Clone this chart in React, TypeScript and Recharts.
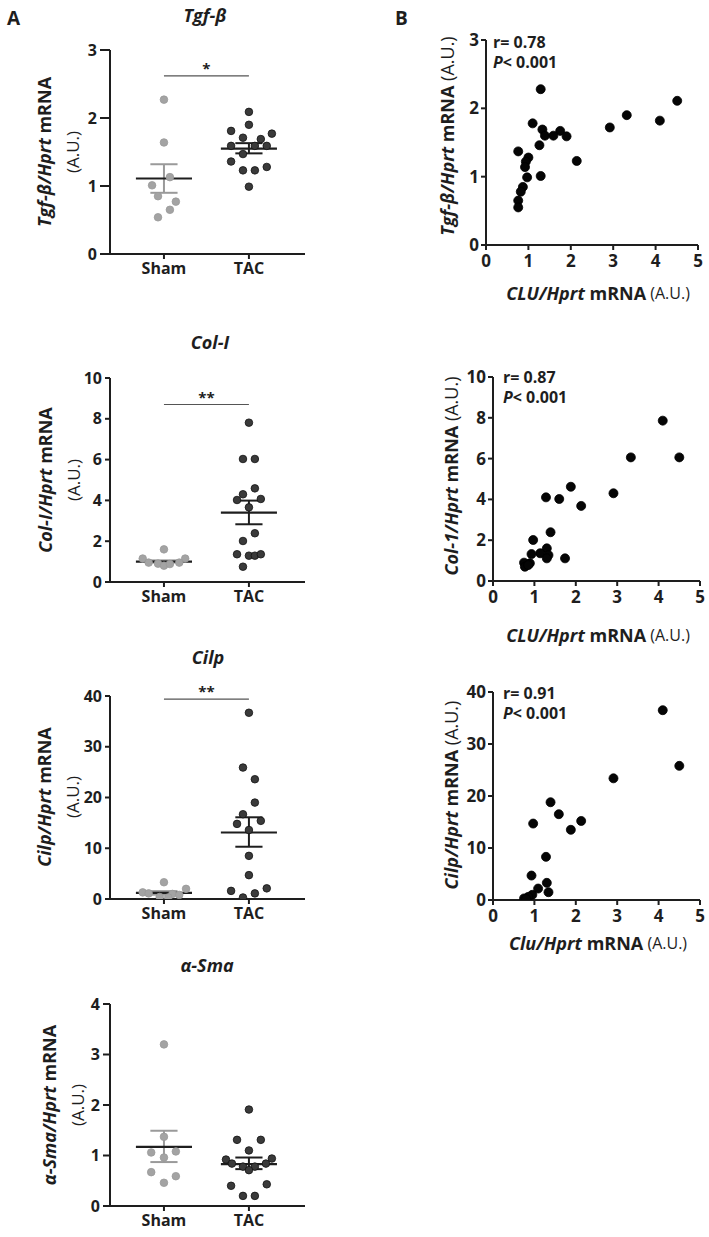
import React from 'react';
import { ScatterChart, Scatter, XAxis, YAxis, ReferenceLine } from 'recharts';

const FONT = '"Open Sans", "DejaVu Sans", sans-serif';
const INK = '#1e1e1e';
const SHAM_FILL = '#a3a3a3';
const TAC_FILL = '#3a3a3a';

// ---- panel A: Sham vs TAC ----
const groups = ['Sham', 'TAC'];

const tgfSham = [2.27, 1.64, 1.13, 1.01, 0.85, 0.77, 0.65, 0.54];
const tgfShamJit = [0, 0, 0.07, -0.14, -0.07, 0.14, 0.07, -0.07];
const tgfTac = [2.09, 1.9, 1.81, 1.77, 1.71, 1.69, 1.59, 1.59, 1.59, 1.47, 1.36, 1.23, 1.23, 1.28, 0.99];
const tgfTacJit = [0, 0, -0.21, 0.27, -0.07, 0.14, -0.21, 0.07, 0.21, -0.07, -0.21, -0.07, 0.07, 0.21, 0];
const tgfStats = [[1.11, 0.9, 1.32], [1.55, 1.48, 1.63]];

const colSham = [1.6, 1.15, 1.15, 0.95, 0.9, 0.8, 0.88, 0.95];
const colShamJit = [0, -0.25, 0.25, -0.18, -0.07, 0, 0.07, 0.18];
const colTac = [7.81, 6.03, 6.03, 4.59, 4.3, 4.02, 4.07, 3.66, 2.39, 2.01, 1.36, 1.29, 1.29, 1.36, 0.75];
const colTacJit = [0, -0.07, 0.07, 0.07, -0.07, -0.14, 0.14, 0, 0.07, -0.07, -0.14, 0, 0.07, 0.14, -0.07];
const colStats = [[1.0, 0.95, 1.06], [3.4, 2.83, 3.99]];

const cilpSham = [3.3, 2.0, 1.3, 1.1, 1.0, 0.8, 0.4, 0.3];
const cilpShamJit = [0, 0.26, -0.25, -0.18, 0.1, 0.18, -0.05, 0.05];
const cilpTac = [36.7, 25.9, 23.6, 19.0, 16.7, 14.8, 15.4, 13.6, 8.5, 4.7, 1.6, 0.3, 1.1, 2.1];
const cilpTacJit = [0, -0.07, 0.07, 0.07, -0.07, -0.14, 0.14, 0, 0, 0, -0.21, -0.07, 0.07, 0.21];
const cilpStats = [[1.2, 0.85, 1.55], [13.1, 10.3, 16.1]];

const smaSham = [3.2, 1.37, 1.06, 1.08, 0.96, 0.67, 0.59, 0.46];
const smaShamJit = [0, 0, -0.15, 0.14, 0, -0.15, 0.14, 0];
const smaTac = [1.91, 1.31, 1.31, 1.1, 0.92, 0.94, 0.84, 0.78, 0.78, 0.84, 0.71, 0.4, 0.43, 0.2, 0.2];
const smaTacJit = [0, -0.14, 0.14, 0, -0.27, 0.27, -0.2, -0.07, 0.07, 0.2, 0, -0.21, 0.21, -0.07, 0.07];
const smaStats = [[1.17, 0.87, 1.49], [0.83, 0.73, 0.96]];

// ---- panel B: correlations with CLU ----
const cluTgf = [1.29, 4.51, 3.32, 4.1, 2.92, 1.1, 1.33, 1.75, 1.59, 1.9, 1.39, 1.26, 0.76, 2.14, 1.0, 0.94, 0.92, 1.29, 0.97, 0.87, 0.82, 0.76, 0.76];
const tgfVsClu = [2.28, 2.11, 1.9, 1.82, 1.72, 1.78, 1.69, 1.67, 1.6, 1.59, 1.6, 1.46, 1.37, 1.23, 1.28, 1.22, 1.14, 1.01, 0.99, 0.85, 0.78, 0.65, 0.55];

const cluCol = [4.1, 3.33, 4.5, 2.91, 1.88, 1.28, 1.6, 2.13, 1.39, 0.97, 1.3, 1.14, 1.34, 1.3, 1.74, 0.93, 0.75, 0.89, 0.77, 0.85];
const colVsClu = [7.86, 6.06, 6.06, 4.3, 4.62, 4.1, 4.02, 3.68, 2.39, 2.01, 1.6, 1.36, 1.27, 1.11, 1.11, 1.32, 0.9, 0.87, 0.7, 0.78];

const cluCilp = [4.1, 4.5, 2.91, 1.39, 1.59, 2.13, 1.88, 0.97, 1.28, 0.93, 1.3, 1.09, 1.34, 0.95, 0.85, 0.75, 0.8];
const cilpVsClu = [36.5, 25.8, 23.4, 18.8, 16.5, 15.2, 13.5, 14.7, 8.3, 4.7, 3.3, 2.2, 1.5, 1.0, 0.6, 0.3, 0.2];

const MEAN_HALF = 0.33;
const CAP_HALF = 0.16;
const PAD_TOP = 30;
const X_AXIS_H = 40;

const tickStyle = { fill: INK, fontSize: 16, fontWeight: 700, fontFamily: FONT };
const axisStroke = { stroke: INK, strokeWidth: 2 };

type StripProps = {
  top: number;
  bottom: number;
  domain: [number, number];
  ticks: number[];
  yTick: number;
  sham: number[];
  shamJit: number[];
  tac: number[];
  tacJit: number[];
  stats: number[][];
  sig?: number;
  stars?: string;
};

const dot = (fill: string, stroke: string, r: number) => (p: any) =>
  <circle cx={p.cx} cy={p.cy} r={r} fill={fill} stroke={stroke} strokeWidth={0.8} />;

const StripChart = ({ top, bottom, domain, ticks, yTick, sham, shamJit, tac, tacJit, stats, sig, stars }: StripProps) => {
  const shamData = sham.map((y, i) => ({ x: 1 + shamJit[i], y }));
  const tacData = tac.map((y, i) => ({ x: 2 + tacJit[i], y }));
  const errColor = ['#9a9a9a', INK];
  return (
    <div style={{ position: 'absolute', left: 0, top: top - PAD_TOP }}>
      <ScatterChart width={330} height={bottom - top + PAD_TOP + X_AXIS_H} margin={{ top: PAD_TOP, right: 25, bottom: 0, left: 0 }}>
        <XAxis type="number" dataKey="x" domain={[0.365, 2.66]} ticks={[1, 2]} interval={0}
          tickFormatter={(v: number) => groups[v - 1]} axisLine={axisStroke} tickLine={axisStroke}
          tickSize={5} tickMargin={4} height={X_AXIS_H} tick={tickStyle} allowDataOverflow />
        <YAxis type="number" dataKey="y" domain={domain} ticks={ticks} interval={0} width={110}
          axisLine={axisStroke} tickLine={axisStroke} tickSize={yTick} tickMargin={3} tick={tickStyle} allowDataOverflow />
        <Scatter data={shamData} shape={dot(SHAM_FILL, '#999', 3.8)} isAnimationActive={false} />
        <Scatter data={tacData} shape={dot(TAC_FILL, '#111', 3.8)} isAnimationActive={false} />
        {stats.map(([m, lo, hi], g) => {
          const cx = g + 1;
          return (
            <React.Fragment key={g}>
              <ReferenceLine segment={[{ x: cx, y: lo }, { x: cx, y: hi }]} stroke={errColor[g]} strokeWidth={2} />
              <ReferenceLine segment={[{ x: cx - CAP_HALF, y: hi }, { x: cx + CAP_HALF, y: hi }]} stroke={errColor[g]} strokeWidth={2} />
              <ReferenceLine segment={[{ x: cx - CAP_HALF, y: lo }, { x: cx + CAP_HALF, y: lo }]} stroke={errColor[g]} strokeWidth={2} />
              <ReferenceLine segment={[{ x: cx - MEAN_HALF, y: m }, { x: cx + MEAN_HALF, y: m }]} stroke={INK} strokeWidth={2.2} />
            </React.Fragment>
          );
        })}
        {sig !== undefined && (
          <ReferenceLine segment={[{ x: 1, y: sig }, { x: 2, y: sig }]} stroke="#555" strokeWidth={1.2}
            label={{ value: stars, position: 'top', fill: INK, fontSize: 15, fontWeight: 700, fontFamily: FONT, offset: 2 }} />
        )}
      </ScatterChart>
    </div>
  );
};

type CorrProps = {
  top: number;
  bottom: number;
  left: number;
  right: number;
  domain: [number, number];
  ticks: number[];
  xs: number[];
  ys: number[];
};

const CorrChart = ({ top, bottom, left, right, domain, ticks, xs, ys }: CorrProps) => {
  const data = xs.map((x, i) => ({ x, y: ys[i] }));
  const yW = 36;
  return (
    <div style={{ position: 'absolute', left: left - yW, top: top - PAD_TOP }}>
      <ScatterChart width={right - left + yW + 10} height={bottom - top + PAD_TOP + X_AXIS_H} margin={{ top: PAD_TOP, right: 10, bottom: 0, left: 0 }}>
        <XAxis type="number" dataKey="x" domain={[0, 5]} ticks={[0, 1, 2, 3, 4, 5]} interval={0}
          axisLine={axisStroke} tickLine={axisStroke} tickSize={5} tickMargin={5} height={X_AXIS_H}
          tick={{ ...tickStyle, fontSize: 17 }} allowDataOverflow />
        <YAxis type="number" dataKey="y" domain={domain} ticks={ticks} interval={0} width={yW}
          axisLine={axisStroke} tickLine={axisStroke} tickSize={5} tickMargin={2}
          tick={{ ...tickStyle, fontSize: 17 }} allowDataOverflow />
        <Scatter data={data} shape={dot('#050505', '#000', 4.5)} isAnimationActive={false} />
      </ScatterChart>
    </div>
  );
};

const ALabel = ({ x, cy, gene }: { x: number; cy: number; gene: string }) => (
  <g>
    <text x={x} y={cy} transform={`rotate(-90 ${x} ${cy})`} textAnchor="middle" dominantBaseline="central"
      fontSize={18} fontWeight={700} fill={INK}>
      <tspan fontStyle="italic">{gene}/Hprt</tspan>
      <tspan> mRNA</tspan>
    </text>
    <text x={x + 28} y={cy} transform={`rotate(-90 ${x + 28} ${cy})`} textAnchor="middle" dominantBaseline="central"
      fontSize={17} fill={INK}>(A.U.)</text>
  </g>
);

const BYLabel = ({ x, cy, gene }: { x: number; cy: number; gene: string }) => (
  <text x={x} y={cy} transform={`rotate(-90 ${x} ${cy})`} textAnchor="middle" dominantBaseline="central"
    fontSize={18} fill={INK}>
    <tspan fontStyle="italic" fontWeight={700}>{gene}/Hprt</tspan>
    <tspan fontWeight={700}> mRNA</tspan>
    <tspan fontSize={18}> (A.U.)</tspan>
  </text>
);

const BXLabel = ({ cx, y, gene }: { cx: number; y: number; gene: string }) => (
  <text x={cx} y={y} textAnchor="middle" dominantBaseline="central" fontSize={18} fill={INK}>
    <tspan fontStyle="italic" fontWeight={700}>{gene}/Hprt</tspan>
    <tspan fontWeight={700}> mRNA</tspan>
    <tspan fontSize={16}> (A.U.)</tspan>
  </text>
);

const Stat = ({ x, y, r }: { x: number; y: number; r: string }) => (
  <text x={x} y={y} fontSize={16} fontWeight={700} fill={INK} dominantBaseline="central">
    <tspan>r= {r}</tspan>
    <tspan x={x} dy={20} fontStyle="italic">P</tspan>
    <tspan>&lt; 0.001</tspan>
  </text>
);

const Title = ({ cx, y, text }: { cx: number; y: number; text: string }) => (
  <text x={cx} y={y} textAnchor="middle" dominantBaseline="central" fontSize={18} fontWeight={700}
    fontStyle="italic" fill={INK}>{text}</text>
);

export default function App() {
  return (
    <div style={{ position: 'absolute', left: 0, top: 0, width: 709, height: 1237, background: '#fff', fontFamily: FONT }}>
      <StripChart top={50} bottom={254} domain={[0, 3]} ticks={[0, 1, 2, 3]} yTick={10} sham={tgfSham} shamJit={tgfShamJit}
        tac={tgfTac} tacJit={tgfTacJit} stats={tgfStats} sig={2.62} stars="*" />
      <StripChart top={378} bottom={582} domain={[0, 10]} ticks={[0, 2, 4, 6, 8, 10]} yTick={5} sham={colSham} shamJit={colShamJit}
        tac={colTac} tacJit={colTacJit} stats={colStats} sig={8.7} stars="**" />
      <StripChart top={696} bottom={899} domain={[0, 40]} ticks={[0, 10, 20, 30, 40]} yTick={5} sham={cilpSham} shamJit={cilpShamJit}
        tac={cilpTac} tacJit={cilpTacJit} stats={cilpStats} sig={39.4} stars="**" />
      <StripChart top={1004} bottom={1206} domain={[0, 4]} ticks={[0, 1, 2, 3, 4]} yTick={7} sham={smaSham} shamJit={smaShamJit}
        tac={smaTac} tacJit={smaTacJit} stats={smaStats} />

      <CorrChart top={40} bottom={245} left={486} right={698} domain={[0, 3]} ticks={[0, 1, 2, 3]} xs={cluTgf} ys={tgfVsClu} />
      <CorrChart top={377} bottom={581} left={493} right={700} domain={[0, 10]} ticks={[0, 2, 4, 6, 8, 10]} xs={cluCol} ys={colVsClu} />
      <CorrChart top={692} bottom={900} left={493} right={700} domain={[0, 40]} ticks={[0, 10, 20, 30, 40]} xs={cluCilp} ys={cilpVsClu} />

      <svg width={709} height={1237} style={{ position: 'absolute', left: 0, top: 0, pointerEvents: 'none' }} fontFamily={FONT}>
        <text x={7} y={18} fontSize={19} fontWeight={700} fill={INK} dominantBaseline="central">A</text>
        <text x={395} y={18} fontSize={19} fontWeight={700} fill={INK} dominantBaseline="central">B</text>

        <Title cx={205} y={15} text="Tgf-β" />
        <Title cx={210} y={342} text="Col-I" />
        <Title cx={208} y={657} text="Cilp" />
        <Title cx={207} y={965} text="α-Sma" />

        <ALabel x={44} cy={152} gene="Tgf-β" />
        <ALabel x={45} cy={480} gene="Col-I" />
        <ALabel x={44} cy={797} gene="Cilp" />
        <ALabel x={49} cy={1105} gene="α-Sma" />

        <BYLabel x={447} cy={136} gene="Tgf-β" />
        <BYLabel x={451} cy={476} gene="Col-1" />
        <BYLabel x={451} cy={795} gene="Cilp" />

        <BXLabel cx={598} y={293} gene="CLU" />
        <BXLabel cx={598} y={635} gene="CLU" />
        <BXLabel cx={598} y={943} gene="Clu" />

        <Stat x={493} y={42} r="0.78" />
        <Stat x={503} y={377} r="0.87" />
        <Stat x={503} y={693} r="0.91" />
      </svg>
    </div>
  );
}
